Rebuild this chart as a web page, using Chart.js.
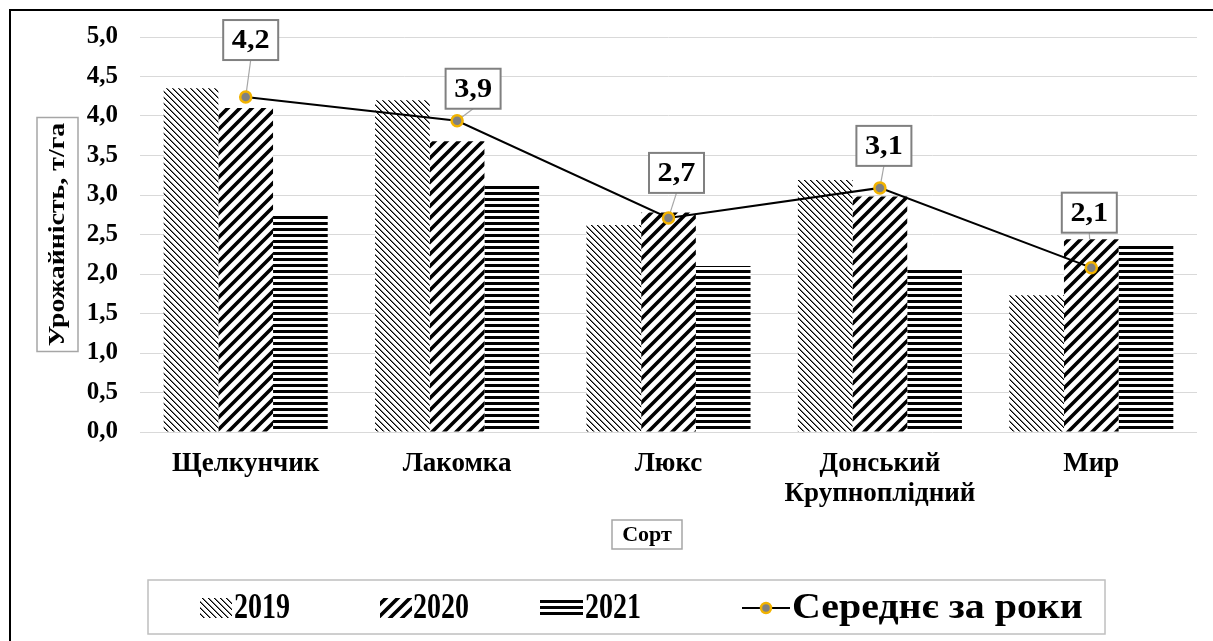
<!DOCTYPE html>
<html><head><meta charset="utf-8">
<script src="https://cdn.jsdelivr.net/npm/chart.js@4"></script>
<style>html,body{margin:0;padding:0;background:#fff}</style>
</head><body>
<canvas id="c" width="1213" height="641"></canvas>
<script>
// ---- data ----
const categories = ['Щелкунчик', 'Лакомка', 'Люкс', ['Донський', 'Крупноплідний'], 'Мир'];
const seriesNames = ['2019', '2020', '2021', 'Середнє за роки'];
const yield2019 = [4.35, 4.20, 2.62, 3.19, 1.73];
const yield2020 = [4.10, 3.68, 2.78, 2.98, 2.44];
const yield2021 = [2.76, 3.13, 2.10, 2.08, 2.39];
const average   = [4.24, 3.94, 2.71, 3.09, 2.08];
const yAxisTitle = 'Урожайність, т/га';
const xAxisTitle = 'Сорт';

// ---- styles ----
const FONT = '"Liberation Serif", "Times New Roman", serif';
const labelOffsets = [[5,-57],[16,-32],[8,-45],[4,-42],[-2,-55]];

function makePattern(kind){
  const c = document.createElement('canvas');
  const x = c.getContext('2d');
  if (kind === 0){
    c.width = 6; c.height = 6;
    x.fillStyle = '#fff'; x.fillRect(0,0,6,6);
    for (let i=0;i<6;i++){
      x.fillStyle = '#000'; x.fillRect(i,i,1,1);
      x.fillStyle = '#777'; x.fillRect((i+1)%6,i,1,1);
    }
  } else if (kind === 1){
    c.width = 12; c.height = 12;
    x.fillStyle = '#fff'; x.fillRect(0,0,12,12);
    x.strokeStyle = '#000'; x.lineWidth = 3.6; x.lineCap='square';
    x.beginPath();
    x.moveTo(0,12); x.lineTo(12,0);
    x.moveTo(-3,3); x.lineTo(3,-3);
    x.moveTo(9,15); x.lineTo(15,9);
    x.stroke();
  } else {
    c.width = 6; c.height = 6;
    x.fillStyle = '#fff'; x.fillRect(0,0,6,6);
    x.fillStyle = '#000'; x.fillRect(0,0,6,3);
  }
  return x.createPattern(c, 'repeat');
}
const patterns = [makePattern(0), makePattern(1), makePattern(2)];

function fmt(v){ return v.toFixed(1).replace('.', ','); }

function scaledText(ctx, text, x, y, sx){
  ctx.save();
  ctx.translate(x, y);
  ctx.scale(sx, 1);
  ctx.fillText(text, 0, 0);
  ctx.restore();
}

const decor = {
  id: 'decor',
  beforeDatasetsDraw(chart){
    const ctx = chart.ctx;
    const meta = chart.getDatasetMeta(3);
    ctx.save();
    ctx.strokeStyle = '#a6a6a6'; ctx.lineWidth = 1.2;
    meta.data.forEach((p,i)=>{
      const [dx,dy] = labelOffsets[i];
      ctx.beginPath();
      ctx.moveTo(p.x+dx, p.y+dy+20);
      ctx.lineTo(p.x, p.y);
      ctx.stroke();
    });
    ctx.restore();
  },
  afterDatasetsDraw(chart){
    const ctx = chart.ctx;
    const meta = chart.getDatasetMeta(3);
    const ca = chart.chartArea;
    ctx.save();
    // data labels
    ctx.font = 'bold 28px ' + FONT;
    ctx.textAlign = 'center'; ctx.textBaseline = 'middle';
    meta.data.forEach((p,i)=>{
      const [dx,dy] = labelOffsets[i];
      const cx = p.x+dx, cy = p.y+dy;
      const w = 55, h = 40;
      ctx.fillStyle = '#fff';
      ctx.fillRect(cx-w/2, cy-h/2, w, h);
      ctx.strokeStyle = '#808080'; ctx.lineWidth = 2;
      ctx.strokeRect(cx-w/2, cy-h/2, w, h);
      ctx.fillStyle = '#000';
      scaledText(ctx, fmt(average[i]), cx, cy+1, 1.08);
    });
    // y axis title
    const ty = (ca.top+ca.bottom)/2;
    ctx.save();
    ctx.translate(57, ty);
    ctx.rotate(-Math.PI/2);
    ctx.fillStyle = '#fff';
    ctx.fillRect(-117, -20, 234, 41);
    ctx.strokeStyle = '#a6a6a6'; ctx.lineWidth = 1.5;
    ctx.strokeRect(-117, -20, 234, 41);
    ctx.fillStyle = '#000';
    ctx.font = 'bold 24px ' + FONT;
    scaledText(ctx, yAxisTitle, 0, 1, 1.16);
    ctx.restore();
    // x axis title
    ctx.fillStyle = '#fff';
    ctx.fillRect(612, 520, 70, 29);
    ctx.strokeStyle = '#a6a6a6'; ctx.lineWidth = 1.5;
    ctx.strokeRect(612, 520, 70, 29);
    ctx.fillStyle = '#000';
    ctx.font = 'bold 22px ' + FONT;
    ctx.fillText(xAxisTitle, 647, 535);
    // legend
    ctx.strokeStyle = '#bfbfbf'; ctx.lineWidth = 1.5;
    ctx.strokeRect(148, 580, 957, 54);
    const ly = 608;
    ctx.font = 'bold 35px ' + FONT;
    ctx.textAlign = 'left';
    const items = [
      {sx:200, sw:32, tx:234, k:0.8},
      {sx:380, sw:32, tx:413, k:0.8},
      {sx:540, sw:43, tx:585, k:0.8},
      {sx:742, sw:48, tx:792, k:1.14}
    ];
    items.forEach((it,i)=>{
      if (i<3){
        ctx.fillStyle = patterns[i];
        ctx.fillRect(it.sx, ly-10, it.sw, 20);
      } else {
        ctx.strokeStyle = '#000'; ctx.lineWidth = 2;
        ctx.beginPath(); ctx.moveTo(it.sx, ly); ctx.lineTo(it.sx+it.sw, ly); ctx.stroke();
        ctx.beginPath(); ctx.arc(it.sx+it.sw/2, ly, 5, 0, Math.PI*2);
        ctx.fillStyle = '#808080'; ctx.fill();
        ctx.strokeStyle = '#f2b300'; ctx.lineWidth = 2.5; ctx.stroke();
      }
      ctx.fillStyle = '#000';
      scaledText(ctx, seriesNames[i], it.tx, ly+1, it.k);
    });
    // outer frame
    ctx.strokeStyle = '#000'; ctx.lineWidth = 2;
    ctx.beginPath(); ctx.moveTo(10, 641); ctx.lineTo(10, 10); ctx.lineTo(1213, 10); ctx.stroke();
    ctx.restore();
  }
};

new Chart(document.getElementById('c'), {
  data: {
    labels: categories,
    datasets: [
      {type:'bar', label: seriesNames[0], data: yield2019, backgroundColor: patterns[0], order: 1},
      {type:'bar', label: seriesNames[1], data: yield2020, backgroundColor: patterns[1], order: 1},
      {type:'bar', label: seriesNames[2], data: yield2021, backgroundColor: patterns[2], order: 1},
      {type:'line', label: seriesNames[3], data: average, borderColor:'#000', borderWidth: 2,
       pointRadius: 5.5, pointBackgroundColor:'#808080', pointBorderColor:'#f2b300', pointBorderWidth: 2.5,
       tension: 0, order: 0}
    ]
  },
  options: {
    responsive: false,
    animation: false,
    devicePixelRatio: 1,
    layout: {padding: {top: 37, right: 16, left: 0, bottom: 0}},
    datasets: {bar: {categoryPercentage: 0.776, barPercentage: 1.0}},
    plugins: {legend: {display: false}, tooltip: {enabled: false}},
    scales: {
      x: {
        grid: {display: false, drawTicks: false},
        border: {display: false},
        ticks: {color:'#000', font: {family: FONT, size: 27, weight: 'bold', lineHeight: 1.1}, padding: 17, maxRotation: 0, autoSkip: false},
        afterFit(s){ s.height = 209; }
      },
      y: {
        min: 0, max: 5,
        grid: {color: '#d9d9d9', lineWidth: 1, drawTicks: false},
        border: {display: false},
        ticks: {stepSize: 0.5, color:'#000', padding: 22,
          font: {family: FONT, size: 25, weight: 'bold'},
          callback: v => fmt(v)},
        afterFit(s){ s.width = 140; }
      }
    }
  },
  plugins: [decor]
});
</script>
</body></html>
